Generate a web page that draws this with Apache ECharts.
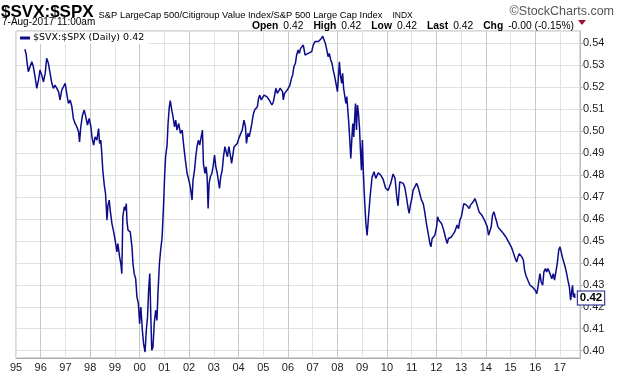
<!DOCTYPE html>
<html><head><meta charset="utf-8">
<script src="https://cdn.jsdelivr.net/npm/echarts@6/dist/echarts.min.js"></script>
<style>html,body{margin:0;padding:0;background:#fff}#c{width:620px;height:376px}</style>
</head><body><div id="c"></div>
<script>
// decimal-year positions of the traced points
const yearPos = [
1995.36,1995.41,1995.46,1995.50,1995.57,1995.64,1995.70,1995.77,1995.84,1995.91,1995.97,
1996.04,1996.11,1996.18,1996.24,1996.31,1996.38,1996.45,1996.51,1996.58,1996.65,1996.72,1996.78,1996.85,1996.92,1996.99,
1997.05,1997.12,1997.19,1997.26,1997.32,1997.39,1997.46,1997.53,1997.57,1997.62,1997.69,1997.76,1997.82,1997.89,1997.96,
1998.03,1998.07,1998.14,1998.20,1998.27,1998.34,1998.38,1998.43,1998.47,1998.51,1998.57,1998.62,1998.68,1998.72,1998.77,1998.81,1998.88,1998.95,
1999.01,1999.08,1999.12,1999.19,1999.24,1999.28,1999.32,1999.38,1999.43,1999.46,1999.49,1999.53,1999.57,1999.62,1999.66,1999.69,1999.73,1999.78,1999.84,1999.89,1999.95,
2000.00,2000.05,2000.11,2000.16,2000.22,2000.27,2000.32,2000.36,2000.41,2000.45,2000.49,2000.54,2000.59,2000.65,2000.70,2000.74,2000.80,2000.85,2000.91,2000.97,
2001.01,2001.05,2001.11,2001.15,2001.20,2001.24,2001.30,2001.35,2001.41,2001.46,2001.51,2001.58,2001.65,2001.72,2001.78,2001.85,2001.92,2001.99,
2002.05,2002.12,2002.16,2002.22,2002.27,2002.32,2002.38,2002.43,2002.49,2002.54,2002.58,2002.64,2002.69,2002.73,2002.77,2002.81,2002.86,2002.92,2002.97,
2003.03,2003.08,2003.14,2003.19,2003.23,2003.28,2003.34,2003.39,2003.45,2003.50,2003.55,2003.61,2003.66,2003.72,2003.77,2003.82,2003.88,2003.95,
2004.01,2004.08,2004.15,2004.22,2004.28,2004.32,2004.38,2004.43,2004.49,2004.54,2004.59,2004.65,2004.70,2004.76,2004.81,2004.86,2004.92,2004.97,
2005.03,2005.08,2005.14,2005.19,2005.24,2005.30,2005.35,2005.41,2005.46,2005.51,2005.57,2005.62,2005.68,2005.73,2005.78,2005.81,2005.86,2005.92,2005.97,
2006.03,2006.08,2006.14,2006.19,2006.24,2006.30,2006.35,2006.41,2006.46,2006.51,2006.57,2006.62,2006.69,2006.76,2006.82,2006.89,2006.96,
2007.02,2007.09,2007.16,2007.23,2007.29,2007.36,2007.40,2007.46,2007.51,2007.57,2007.62,2007.67,2007.73,2007.78,2007.83,2007.89,2007.94,
2008.00,2008.05,2008.08,2008.12,2008.17,2008.21,2008.25,2008.30,2008.34,2008.38,2008.42,2008.46,2008.50,2008.54,2008.58,2008.62,2008.66,2008.70,2008.73,2008.77,2008.81,2008.85,2008.89,2008.93,2008.97,
2009.01,2009.05,2009.10,2009.15,2009.20,2009.25,2009.32,2009.40,2009.48,2009.55,2009.65,2009.75,2009.85,2009.95,
2010.05,2010.15,2010.25,2010.33,2010.40,2010.45,2010.52,2010.59,2010.66,2010.72,2010.79,2010.86,2010.90,2010.95,
2011.01,2011.06,2011.13,2011.20,2011.26,2011.33,2011.40,2011.47,2011.53,2011.60,2011.67,2011.74,2011.78,2011.83,2011.89,2011.94,
2012.01,2012.05,2012.10,2012.16,2012.21,2012.28,2012.33,2012.38,2012.44,2012.49,2012.55,2012.61,2012.68,2012.74,2012.79,2012.84,2012.90,2012.95,
2013.01,2013.06,2013.11,2013.17,2013.22,2013.28,2013.33,2013.38,2013.44,2013.49,2013.56,2013.63,2013.68,2013.73,2013.79,2013.84,2013.90,2013.95,
2014.00,2014.06,2014.11,2014.17,2014.22,2014.27,2014.33,2014.38,2014.44,2014.49,2014.54,2014.60,2014.65,2014.71,2014.76,2014.81,2014.87,2014.92,2014.98,
2015.03,2015.08,2015.14,2015.19,2015.25,2015.30,2015.35,2015.41,2015.46,2015.52,2015.57,2015.62,2015.68,2015.73,2015.79,2015.84,2015.89,2015.95,
2016.00,2016.06,2016.10,2016.14,2016.19,2016.24,2016.30,2016.35,2016.41,2016.46,2016.51,2016.57,2016.62,2016.67,2016.73,2016.78,2016.84,2016.89,2016.95,
2017.00,2017.05,2017.11,2017.16,2017.21,2017.27,2017.32,2017.38,2017.43,2017.49,2017.51,2017.54,2017.59,2017.60
];
// $SVX:$SPX ratio values
const ratio = [
0.5373,0.5351,0.5301,0.5271,0.5294,0.5316,0.5294,0.5248,0.5195,0.5233,0.5278,
0.5256,0.5225,0.5263,0.5332,0.5309,0.5263,0.5218,0.5195,0.5210,0.5218,0.5180,0.5142,0.5187,0.5195,0.5218,
0.5172,0.5126,0.5142,0.5111,0.5058,0.5035,0.5020,0.4997,0.4951,0.5020,0.5073,0.5096,0.5066,0.5028,0.5058,
0.5020,0.4974,0.4936,0.4974,0.4959,0.5012,0.4944,0.4959,0.4898,0.4822,0.4754,0.4716,0.4594,0.4663,0.4686,0.4640,0.4579,0.4541,
0.4503,0.4450,0.4488,0.4427,0.4397,0.4351,0.4610,0.4655,0.4640,0.4670,0.4587,0.4549,0.4556,0.4541,0.4549,0.4473,0.4397,0.4351,0.4328,0.4245,0.4214,
0.4123,0.4199,0.4093,0.4032,0.3994,0.4093,0.4154,0.4268,0.4351,0.4169,0.4002,0.4017,0.4123,0.4184,0.4138,0.4260,0.4397,0.4458,0.4518,0.4670,
0.4792,0.4883,0.4936,0.5035,0.5111,0.5139,0.5096,0.5066,0.5020,0.5050,0.5005,0.5035,0.4990,0.5005,0.4936,0.4868,0.4807,0.4777,
0.4746,0.4686,0.4777,0.4822,0.4883,0.4929,0.4959,0.4936,0.4974,0.5005,0.4853,0.4807,0.4838,0.4792,0.4648,0.4762,0.4792,0.4807,0.4838,
0.4891,0.4838,0.4807,0.4769,0.4739,0.4792,0.4822,0.4883,0.4929,0.4906,0.4883,0.4929,0.4898,0.4853,0.4891,0.4929,0.4921,0.4944,
0.4967,0.4974,0.5005,0.5050,0.5020,0.4944,0.4990,0.4974,0.5005,0.5035,0.5073,0.5096,0.5088,0.5111,0.5149,0.5164,0.5142,0.5149,
0.5164,0.5172,0.5157,0.5164,0.5142,0.5134,0.5119,0.5134,0.5164,0.5195,0.5172,0.5180,0.5195,0.5187,0.5180,0.5142,0.5172,0.5180,0.5187,
0.5180,0.5210,0.5240,0.5256,0.5294,0.5309,0.5347,0.5370,0.5354,0.5377,0.5385,0.5392,0.5347,0.5339,0.5354,0.5347,0.5362,
0.5392,0.5408,0.5415,0.5408,0.5415,0.5423,0.5433,0.5415,0.5400,0.5370,0.5339,0.5354,0.5324,0.5309,0.5278,0.5248,0.5218,
0.5180,0.5263,0.5316,0.5256,0.5218,0.5263,0.5195,0.5157,0.5126,0.5157,0.5096,0.5035,0.4959,0.4876,0.4959,0.5035,0.4974,0.5066,0.5126,0.5005,0.5119,0.5081,0.5020,0.4914,0.4822,
0.4959,0.4807,0.4680,0.4580,0.4525,0.4600,0.4700,0.4790,0.4815,0.4785,0.4810,0.4800,0.4780,0.4740,
0.4730,0.4760,0.4805,0.4785,0.4700,0.4660,0.4769,0.4762,0.4762,0.4746,0.4701,0.4648,0.4625,0.4663,
0.4693,0.4731,0.4746,0.4762,0.4746,0.4716,0.4686,0.4670,0.4632,0.4579,0.4534,0.4488,0.4473,0.4511,0.4503,0.4526,
0.4564,0.4610,0.4594,0.4587,0.4579,0.4556,0.4534,0.4511,0.4488,0.4511,0.4503,0.4518,0.4511,0.4541,0.4549,0.4572,0.4556,0.4594,
0.4610,0.4640,0.4670,0.4670,0.4663,0.4670,0.4648,0.4663,0.4670,0.4678,0.4693,0.4670,0.4663,0.4632,0.4625,0.4617,0.4610,0.4594,
0.4587,0.4564,0.4526,0.4518,0.4564,0.4617,0.4632,0.4610,0.4587,0.4564,0.4556,0.4549,0.4541,0.4534,0.4526,0.4518,0.4511,0.4496,0.4488,
0.4473,0.4458,0.4450,0.4420,0.4404,0.4427,0.4442,0.4435,0.4427,0.4412,0.4366,0.4344,0.4336,0.4313,0.4298,0.4306,0.4290,0.4283,
0.4275,0.4260,0.4283,0.4313,0.4351,0.4313,0.4298,0.4359,0.4374,0.4359,0.4374,0.4359,0.4344,0.4328,0.4351,0.4321,0.4313,0.4397,0.4458,
0.4473,0.4450,0.4420,0.4412,0.4382,0.4351,0.4321,0.4290,0.4230,0.4283,0.4298,0.4245,0.4260,0.4240
];
const yTickLabels = ['0.40','0.41','0.42','0.43','0.44','0.45','0.46','0.47','0.48','0.49','0.50','0.51','0.52','0.53','0.54'];
const xTickLabels = ['95','96','97','98','99','00','01','02','03','04','05','06','07','08','09','10','11','12','13','14','15','16','17'];

const seriesName = '$SVX:$SPX (Daily) 0.42';
const lastVal = ratio[ratio.length - 1];
const data = yearPos.map((y, i) => [y, ratio[i]]);
const chart = echarts.init(document.getElementById('c'), null, {renderer: 'canvas'});
const F = 'Liberation Sans, Arial, sans-serif';
chart.setOption({
  animation: false,
  backgroundColor: '#fff',
  textStyle: {fontFamily: F},
  title: [
    {left: 1, top: 3, padding: 0, text: '{b|$SVX:$SPX} {n|S&P LargeCap 500/Citigroup Value Index/S&P 500 Large Cap Index}  {s|INDX}',
     textStyle: {fontWeight: 'normal', rich: {
       b: {fontFamily: F, fontWeight: 'bold', fontSize: 17, lineHeight: 18, color: '#000'},
       n: {fontFamily: F, fontWeight: 'normal', fontSize: 9.4, lineHeight: 18, color: '#000', verticalAlign: 'bottom', padding: [0,0,1,0]},
       s: {fontFamily: F, fontWeight: 'normal', fontSize: 8.5, lineHeight: 18, color: '#000', verticalAlign: 'bottom', padding: [0,0,1,0]}}}},
    {right: 6, top: 5, padding: 0, text: '©StockCharts.com', textStyle: {fontFamily: F, fontSize: 12.5, fontWeight: 'normal', color: '#555'}},
    {left: 2, top: 17, padding: 0, text: '7-Aug-2017 11:00am', textStyle: {fontFamily: F, fontSize: 10, fontWeight: 'normal', color: '#000'}},
    {right: 46, top: 17, padding: 0, text: '{l|Open} {v|0.42}  {l|High} {v|0.42}  {l|Low} {v|0.42}  {l|Last} {v|0.42}  {l|Chg} {v|-0.00 (-0.15%)}',
     textStyle: {fontWeight: 'normal', rich: {
       l: {fontFamily: F, fontWeight: 'bold', fontSize: 10.3, color: '#000'},
       v: {fontFamily: F, fontWeight: 'normal', fontSize: 10.3, color: '#000'}}}}
  ],
  graphic: [
    {type: 'polygon', shape: {points: [[578, 20], [586, 20], [582, 25]]}, style: {fill: '#a01030'}}
  ],
  legend: {
    show: true, left: 17, top: 32, padding: [1, 4, 1, 3], itemGap: 0,
    backgroundColor: '#fff', itemWidth: 10, itemHeight: 3, icon: 'rect',
    textStyle: {fontFamily: 'DejaVu Sans, Verdana, sans-serif', fontSize: 9.5, color: '#000', padding: [0,0,0,-2]},
    data: [seriesName]
  },
  grid: {left: 16, right: 40, top: 31, bottom: 18, show: true, borderColor: '#b5b5b5', borderWidth: 1},
  xAxis: {
    type: 'value', min: 1995, max: 2017.81, interval: 1,
    axisLine: {show: true, lineStyle: {color: '#aaa'}},
    axisTick: {show: false},
    axisLabel: {fontFamily: F, fontSize: 11, color: '#222', margin: 4, showMaxLabel: false,
      formatter: v => (Math.abs(v - Math.round(v)) < 1e-6) ? xTickLabels[Math.round(v) - 1995] || '' : ''},
    splitLine: {show: true, lineStyle: {color: ['#e2e2e2', '#c8c8c8'], width: 1}}
  },
  yAxis: {
    type: 'value', position: 'right', min: 0.39667, max: 0.54561, splitNumber: 14, scale: true,
    axisLine: {show: true, lineStyle: {color: '#bbb', type: 'dotted'}},
    axisTick: {show: true, length: 3, lineStyle: {color: '#bbb'}},
    axisLabel: {fontFamily: F, fontSize: 11, color: '#222', margin: 3, showMinLabel: false, showMaxLabel: false,
      formatter: v => { const s = v.toFixed(2); return (Math.abs(v - Number(s)) < 1e-6 && yTickLabels.includes(s)) ? s : ''; }},
    splitLine: {show: true, lineStyle: {color: '#e2e2e2', width: 1}}
  },
  series: [{
    name: seriesName, type: 'line', data: data, showSymbol: false, symbol: 'none',
    lineStyle: {color: '#0c0c8a', width: 1.5}, itemStyle: {color: '#0c0c8a'},
    endLabel: {show: true, formatter: () => lastVal.toFixed(2), distance: 3,
      fontFamily: F, fontWeight: 'bold', fontSize: 11.5, color: '#000',
      backgroundColor: '#fff', borderColor: '#1a1a8a', borderWidth: 1, padding: [1, 2, 0, 2]}
  }]
});
</script></body></html>
